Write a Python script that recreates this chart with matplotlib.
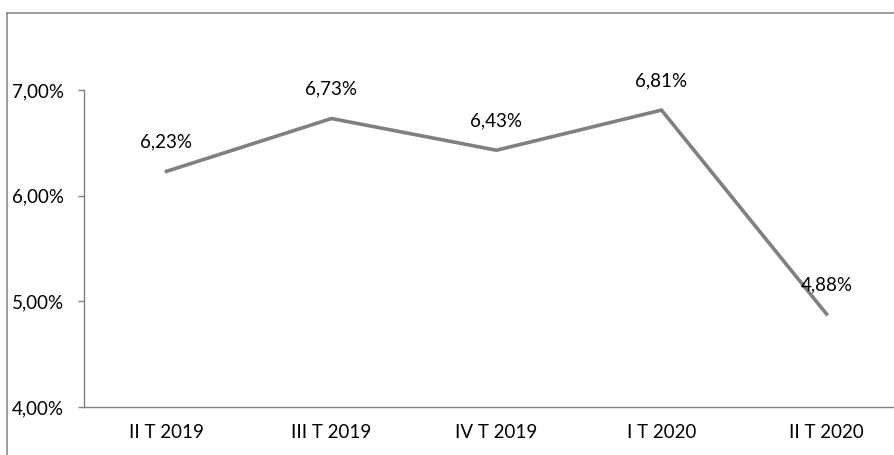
import matplotlib.pyplot as plt
from matplotlib.lines import Line2D
from matplotlib.ticker import FuncFormatter

quarters = ["II T 2019", "III T 2019", "IV T 2019", "I T 2020", "II T 2020"]
rates = [6.23, 6.73, 6.43, 6.81, 4.88]
yticks = [4.0, 5.0, 6.0, 7.0]

plt.rcParams['font.family'] = ['Lato', 'DejaVu Sans']

W, H = 895, 455
fig = plt.figure(figsize=(W / 100, H / 100), dpi=100)
ax = fig.add_axes([84 / W, (H - 407) / H, 825 / W, 317 / H])

grey = '#808080'
ax.plot(range(len(rates)), rates, color=grey, lw=2.6, solid_joinstyle='miter')
for i, v in enumerate(rates):
    ax.annotate(f"{v:.2f}%".replace('.', ','), (i, v), xytext=(0, 21),
                textcoords='offset points', ha='center', va='center', fontsize=13.5)

ax.set_xlim(-0.5, 4.5)
ax.set_ylim(4, 7)
ax.set_xticks(range(len(quarters)))
ax.set_xticklabels(quarters)
ax.set_yticks(yticks)
ax.yaxis.set_major_formatter(FuncFormatter(lambda v, p: f"{v:.2f}%".replace('.', ',')))
ax.tick_params(axis='y', length=4.3, width=1, color=grey, pad=10, labelsize=13.5)
ax.tick_params(axis='x', length=0, pad=12, labelsize=13.5)
for s in ['top', 'right']:
    ax.spines[s].set_visible(False)
for s in ['left', 'bottom']:
    ax.spines[s].set_color(grey)
    ax.spines[s].set_linewidth(1)

# outer chart border (cropped)
fig.add_artist(Line2D([7 / W, 1], [1 - 13 / H, 1 - 13 / H], color='#8c8c8c', lw=1.2, transform=fig.transFigure))
fig.add_artist(Line2D([7 / W, 7 / W], [0, 1 - 13 / H], color='#8c8c8c', lw=1.2, transform=fig.transFigure))

fig.savefig('out.png', dpi=100)
